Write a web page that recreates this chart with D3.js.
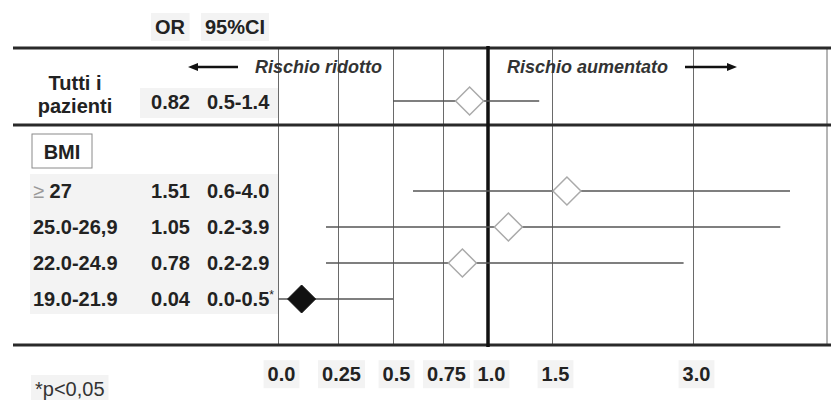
<!DOCTYPE html>
<html>
<head>
<meta charset="utf-8">
<script src="https://cdn.jsdelivr.net/npm/d3@7"></script>
<style>
  html, body { margin: 0; padding: 0; background: #fff; }
  svg { display: block; font-family: "Liberation Sans", Arial, sans-serif; }
</style>
</head>
<body>
<svg id="chart" width="831" height="400"></svg>
<script>
// Odds ratios of the overall sample and by BMI class
const overallLabel = ["Tutti i", "pazienti"];
const overallOR = 0.82;
const overallLow = 0.5;
const overallHigh = 1.4;

const bmiGroups = ["≥ 27", "25.0-26,9", "22.0-24.9", "19.0-21.9"];
const bmiOR = [1.51, 1.05, 0.78, 0.04];
const bmiLow = [0.6, 0.2, 0.2, 0.0];
const bmiHigh = [4.0, 3.9, 2.9, 0.5];
const bmiSignificant = [false, false, false, true];

const tickValues = [0, 0.25, 0.5, 0.75, 1, 1.5, 3];
const tickLabels = ["0.0", "0.25", "0.5", "0.75", "1.0", "1.5", "3.0"];

const svg = d3.select("#chart");
const W = 831;

// Horizontal structure
const yTop = 48, ySep = 125, yBottom = 345;
const lineLeft = 13;

// Non-uniform OR axis: each interval gets its own stretch
const x = d3.scaleLinear()
  .domain([0, 0.25, 0.5, 0.75, 1, 1.5, 3, 4])
  .range([278, 338, 393, 443, 488, 552, 693, 790]);

// Row positions
const yOverall = 101;
const y = d3.scalePoint().domain(bmiGroups).range([191, 299]);

const fmtOR = d3.format(".2f");
const fmtCI = d3.format(".1f");

const bgLayer = svg.append("g");
const gridLayer = svg.append("g");
const markLayer = svg.append("g");
const textLayer = svg.append("g");

// Grid lines and tick labels via axis
const axis = d3.axisBottom(x)
  .tickValues(tickValues)
  .tickFormat((d, i) => tickLabels[i])
  .tickSizeInner(-(yBottom - yTop))
  .tickSizeOuter(0)
  .tickPadding(22);

const axisG = gridLayer.append("g")
  .attr("transform", `translate(0,${yBottom})`)
  .call(axis);
axisG.select(".domain").remove();
axisG.selectAll(".tick line").attr("stroke", "#6a6a6a").attr("stroke-width", 1);
axisG.selectAll(".tick text")
  .attr("fill", "#222")
  .attr("font-size", 20)
  .attr("font-weight", "bold")
  .attr("font-family", "Liberation Sans, Arial, sans-serif")
  .attr("dx", 3)
  .classed("boxed", true);

// Right frame line
gridLayer.append("line")
  .attr("x1", 827).attr("x2", 827)
  .attr("y1", yTop).attr("y2", yBottom)
  .attr("stroke", "#6a6a6a").attr("stroke-width", 1);

// Thick horizontal rules
[yTop, ySep, yBottom].forEach(yy => {
  gridLayer.append("line")
    .attr("x1", lineLeft).attr("x2", W)
    .attr("y1", yy).attr("y2", yy)
    .attr("stroke", "#2a2a2a").attr("stroke-width", 3);
});

// Reference line at OR = 1
gridLayer.append("line")
  .attr("x1", x(1)).attr("x2", x(1))
  .attr("y1", yTop - 2).attr("y2", yBottom + 2)
  .attr("stroke", "#111").attr("stroke-width", 3.5);

// Diamond marker, left vertex sits on the estimate
const half = 14;
const diamond = `M0,0 L${half},${-half} L${2 * half},0 L${half},${half} Z`;

function drawRow(yy, or, lo, hi, sig) {
  markLayer.append("line")
    .attr("x1", x(lo)).attr("x2", x(hi))
    .attr("y1", yy).attr("y2", yy)
    .attr("stroke", "#555").attr("stroke-width", 1.3);
  markLayer.append("path")
    .attr("d", diamond)
    .attr("transform", `translate(${x(or)},${yy})`)
    .attr("fill", sig ? "#111" : "#fff")
    .attr("stroke", sig ? "#111" : "#aaa")
    .attr("stroke-width", sig ? 1 : 1.5);
}

drawRow(yOverall, overallOR, overallLow, overallHigh, false);
bmiGroups.forEach((g, i) => drawRow(y(g), bmiOR[i], bmiLow[i], bmiHigh[i], bmiSignificant[i]));

// Text helpers
const base = { "font-size": 20, "font-weight": "bold", fill: "#222" };
function txt(parent, xx, yy, s, opts = {}) {
  const t = parent.append("text").attr("x", xx).attr("y", yy).text(s);
  Object.entries(Object.assign({}, base, opts)).forEach(([k, v]) => t.attr(k, v));
  return t;
}

// Header
txt(textLayer, 155, 34, "OR").classed("boxed", true);
txt(textLayer, 205, 34, "95%CI").classed("boxed", true);

// Overall row
txt(textLayer, 75, 90, overallLabel[0], { "text-anchor": "middle" });
txt(textLayer, 75, 113, overallLabel[1], { "text-anchor": "middle" });
txt(textLayer, 190, 109, fmtOR(overallOR), { "text-anchor": "end" });
txt(textLayer, 207, 109, fmtCI(overallLow) + "-" + fmtCI(overallHigh));

// BMI heading box
textLayer.append("rect")
  .attr("x", 32).attr("y", 134).attr("width", 60).attr("height", 34)
  .attr("fill", "#fff").attr("stroke", "#8a8a8a").attr("stroke-width", 1);
txt(textLayer, 62, 159, "BMI", { "text-anchor": "middle" });

// BMI rows
bmiGroups.forEach((g, i) => {
  const yy = y(g) + 7;
  const label = txt(textLayer, 33, yy, "");
  if (g.startsWith("≥")) {
    label.append("tspan").attr("fill", "#999").attr("font-weight", "normal").text("≥");
    label.append("tspan").text(g.slice(1));
  } else {
    label.text(g);
  }
  txt(textLayer, 190, yy, fmtOR(bmiOR[i]), { "text-anchor": "end" });
  const ci = txt(textLayer, 207, yy, fmtCI(bmiLow[i]) + "-" + fmtCI(bmiHigh[i]));
  if (bmiSignificant[i]) {
    ci.append("tspan").attr("font-size", 12).attr("font-weight", "normal")
      .attr("dy", -7).text("*");
  }
});

// Direction annotations
const annot = { "font-size": 18, "font-style": "italic", fill: "#333" };
txt(textLayer, 255, 73, "Rischio ridotto", annot);
txt(textLayer, 507, 73, "Rischio aumentato", annot);

function arrow(x1, x2, yy) {
  const dir = Math.sign(x2 - x1);
  textLayer.append("line")
    .attr("x1", x1).attr("x2", x2 - dir * 8)
    .attr("y1", yy).attr("y2", yy)
    .attr("stroke", "#111").attr("stroke-width", 2.5);
  textLayer.append("path")
    .attr("d", `M${x2},${yy} L${x2 - dir * 10},${yy - 4} L${x2 - dir * 10},${yy + 4} Z`)
    .attr("fill", "#111");
}
arrow(238, 188, 67);
arrow(685, 737, 67);

// Footnote
txt(textLayer, 35, 396, "*p<0,05", { "font-weight": "normal", "font-size": 20, fill: "#333" })
  .classed("boxed", true);

// Light grey panels behind the table text
bgLayer.append("rect")
  .attr("x", 30).attr("y", 174).attr("width", 248).attr("height", 140)
  .attr("fill", "#f3f3f3");
bgLayer.append("rect")
  .attr("x", 140).attr("y", 88).attr("width", 138).attr("height", 30)
  .attr("fill", "#f3f3f3");
svg.selectAll(".boxed").each(function () {
  const b = this.getBBox();
  const m = this.getCTM();
  bgLayer.append("rect")
    .attr("x", b.x + m.e - 4).attr("y", b.y + m.f - 3)
    .attr("width", b.width + 8).attr("height", b.height + 6)
    .attr("fill", "#f3f3f3");
});
</script>
</body>
</html>
